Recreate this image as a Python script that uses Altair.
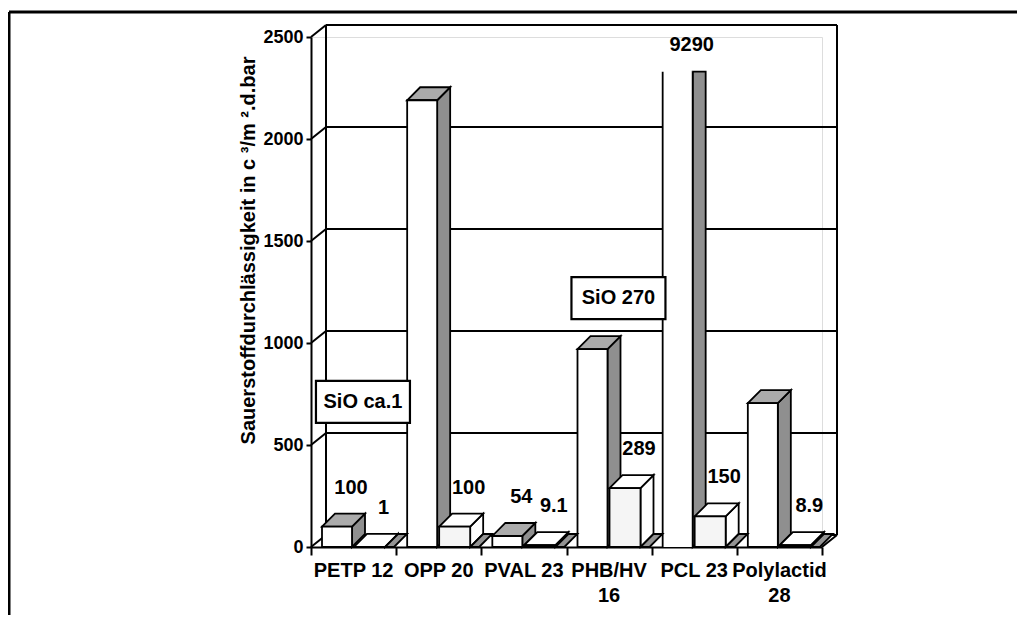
import altair as alt
import pandas as pd

# ---------------- data ----------------
categories = ["PETP 12", "OPP 20", "PVAL 23", "PHB/HV\n16", "PCL 23", "Polylactid\n28"]
uncoated = [100, 2190, 54, 970, 9290, 705]
coated = [1, 100, 9.1, 289, 150, 8.9]
empty = [0, 0, 0, 0, 0, 0]
uncoated_labels = ["100", "", "54", "", "9290", ""]
coated_labels = ["1", "100", "9.1", "289", "150", "8.9"]
y_ticks = [0, 500, 1000, 1500, 2000, 2500]
notes = ["SiO ca.1", "SiO 270"]
note_category = [0, 3]
note_level = [711, 1220]
Y_TITLE = "Sauerstoffdurchlässigkeit in c ³/m ².d.bar"

# ---------------- geometry / style ----------------
W, H = 511, 510
YMAX = 2500
CAP = 2330           # visible top of the clipped bar
N = len(categories)
CAT_PX = W / N
VPX = YMAX / H


def ux(px):
    return px / CAT_PX


def uy(px):
    return px * VPX


WALL_DX, WALL_DY = ux(15), uy(12)
BAR_DX, BAR_DY = ux(13), uy(13)
FONT = "Liberation Sans"
STROKE = 1.8

xs = alt.Scale(domain=[0, N], nice=False, zero=False)
ys = alt.Scale(domain=[0, YMAX], nice=False)

XAXIS = alt.Axis(
    values=list(range(N + 1)), labels=False, title=None, grid=False,
    tickSize=8, tickWidth=2, tickColor="black", domainColor="black",
    domainWidth=2)
YAXIS = alt.Axis(
    values=y_ticks, format="d", title=Y_TITLE, grid=False,
    tickSize=5, tickWidth=2, tickColor="black", domainColor="black",
    domainWidth=2, labelFont=FONT, labelFontSize=18, labelFontWeight="bold",
    labelColor="black", labelPadding=3, titleFont=FONT, titleFontSize=20,
    titleFontWeight="bold", titleColor="black", titleBaseline="middle",
    titleX=-63, titleY=213)


def X(f):
    return alt.X(f, type="quantitative", scale=xs, axis=XAXIS)


def Y(f):
    return alt.Y(f, type="quantitative", scale=ys, axis=YAXIS)


# ---------------- walls ----------------
grid_df = pd.DataFrame({"v": y_ticks})
grid_df["x"] = WALL_DX
grid_df["x2"] = N + WALL_DX
grid_df["y"] = grid_df["v"] + WALL_DY
back_grid = alt.Chart(grid_df).mark_rule(color="black", strokeWidth=2).encode(
    x=X("x"), x2="x2", y=Y("y"))

slant_df = pd.DataFrame({"v": y_ticks})
slant_df["x"] = 0.0
slant_df["x2"] = WALL_DX
slant_df["y"] = slant_df["v"]
slant_df["y2"] = slant_df["v"] + WALL_DY
slant_df = pd.concat([slant_df, pd.DataFrame(
    {"v": [0], "x": [float(N)], "x2": [N + WALL_DX], "y": [0.0], "y2": [WALL_DY]})])
slants = alt.Chart(slant_df).mark_rule(color="black", strokeWidth=2).encode(
    x=X("x"), x2="x2", y=Y("y"), y2="y2")

vert_df = pd.DataFrame({"x": [WALL_DX, N + WALL_DX]})
vert_df["y"] = WALL_DY
vert_df["y2"] = YMAX + WALL_DY
verts = alt.Chart(vert_df).mark_rule(color="black", strokeWidth=2).encode(
    x=X("x"), y=Y("y"), y2="y2")

# ---------------- bars ----------------
series = [
    # name, values, front-left px, front-right px, front, top, side colours
    ("u", uncoated, 11, 41, "#ffffff", "#ababab", "#8f8f8f"),
    ("c", coated, 43, 74, "#f5f5f5", "#ffffff", "#ffffff"),
    ("e", empty, 74, 83, "#ffffff", "#939393", "#939393"),
]

bar_layers = []
for name, vals, a, b, cf, ct, cs in series:
    fronts, open_fronts, edges, sides, tops = [], [], [], [], []
    for i, v in enumerate(vals):
        xl, xr = i + ux(a), i + ux(b)
        h = min(v, CAP)
        clipped = v > CAP
        bid = f"{name}{i}"
        if clipped:
            open_fronts.append({"x": xl, "x2": xr, "y": 0.0, "y2": h})
            edges.append({"x": xl, "y": 0.0, "y2": h})
            edges.append({"x": xr, "y": 0.0, "y2": h})
        else:
            fronts.append({"id": bid, "x": xl, "x2": xr, "y": 0.0, "y2": h})
        top_r = h if clipped else h + BAR_DY
        sides.append({"id": bid, "x": xr, "lo": 0.0, "hi": h})
        sides.append({"id": bid, "x": xr + BAR_DX, "lo": BAR_DY, "hi": top_r})
        if not clipped:
            tops.append({"id": bid, "y": h, "l": xl, "r": xr})
            tops.append({"id": bid, "y": h + BAR_DY, "l": xl + BAR_DX, "r": xr + BAR_DX})
    if name != "e":
        bar_layers.append(alt.Chart(pd.DataFrame(sides)).mark_area(
            fill=cs, stroke="black", strokeWidth=STROKE, strokeJoin="miter").encode(
            x=X("x"), y=Y("hi"), y2="lo", detail="id:N"))
    bar_layers.append(alt.Chart(pd.DataFrame(tops)).mark_area(
        orient="horizontal", fill=ct, stroke="black", strokeWidth=STROKE,
        strokeJoin="miter").encode(
        y=Y("y"), x=X("l"), x2="r", detail="id:N"))
    if name != "e":
        bar_layers.append(alt.Chart(pd.DataFrame(fronts)).mark_rect(
            fill=cf, stroke="black", strokeWidth=STROKE).encode(
            x=X("x"), x2="x2", y=Y("y"), y2="y2"))
        if open_fronts:
            bar_layers.append(alt.Chart(pd.DataFrame(open_fronts)).mark_rect(
                fill=cf).encode(x=X("x"), x2="x2", y=Y("y"), y2="y2"))
            bar_layers.append(alt.Chart(pd.DataFrame(edges)).mark_rule(
                color="black", strokeWidth=STROKE).encode(x=X("x"), y=Y("y"), y2="y2"))

# ---------------- value labels ----------------
lab_rows, clip_rows = [], []
for (name, vals, a, b, *_), labels in zip(series[:2], [uncoated_labels, coated_labels]):
    for i, (v, t) in enumerate(zip(vals, labels)):
        if not t:
            continue
        cx = i + ux((a + b) / 2 + 14)
        row = {"x": cx, "y": min(v, CAP), "t": t}
        (clip_rows if v > CAP else lab_rows).append(row)

text_style = dict(font=FONT, fontSize=20, fontWeight="bold", color="black")
val_labels = alt.Chart(pd.DataFrame(lab_rows)).mark_text(
    baseline="middle", dy=-39, **text_style).encode(x=X("x"), y=Y("y"), text="t:N")
clip_labels = alt.Chart(pd.DataFrame(clip_rows)).mark_text(
    baseline="middle", dy=-27, **text_style).encode(x=X("x"), y=Y("y"), text="t:N")

# ---------------- category labels ----------------
cat_df = pd.DataFrame({"t": categories, "x": [i + 0.5 for i in range(N)], "base": 0.0})
cat_labels = alt.Chart(cat_df).mark_text(
    baseline="top", dy=14, lineBreak="\n", lineHeight=25, **text_style).encode(
    x=X("x"), y=Y("base"), text="t:N")

# ---------------- annotation boxes ----------------
note_df = pd.DataFrame({"t": notes, "c": note_category, "v": note_level})
note_df["x"] = note_df["c"] + 0.61
note_df["xa"] = note_df["x"] - ux(47)
note_df["xb"] = note_df["x"] + ux(47)
note_df["ya"] = note_df["v"] - uy(21)
note_df["yb"] = note_df["v"] + uy(21)
note_box = alt.Chart(note_df).mark_rect(
    fill="white", stroke="black", strokeWidth=2.2).encode(
    x=X("xa"), x2="xb", y=Y("ya"), y2="yb")
note_text = alt.Chart(note_df).mark_text(baseline="middle", **text_style).encode(
    x=X("x"), y=Y("v"), text="t:N")

# ---------------- outer frame ----------------
frame_df = pd.DataFrame({"k": [0]})
frame_left = alt.Chart(frame_df).mark_rule(color="black", strokeWidth=3).encode(
    x=alt.value(-302), y=alt.value(-25), y2=alt.value(H + 200))
frame_top = alt.Chart(frame_df).mark_rule(color="black", strokeWidth=3).encode(
    x=alt.value(-302), x2=alt.value(W + 200), y=alt.value(-25))

chart = alt.layer(
    frame_left, frame_top, back_grid, verts, slants,
    *bar_layers, val_labels, clip_labels, cat_labels, note_box, note_text,
).properties(
    width=W, height=H, autosize="none",
    padding={"left": 303, "top": 29, "right": 195, "bottom": 68},
).configure_view(stroke=None).configure(background="white")

chart.save("out.html", embed_options={"renderer": "svg", "actions": False})
